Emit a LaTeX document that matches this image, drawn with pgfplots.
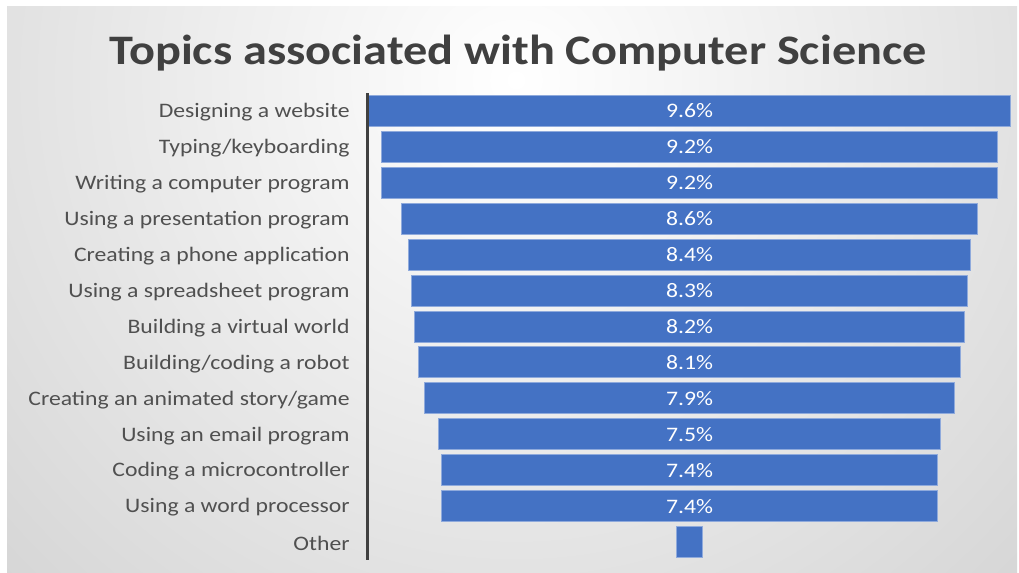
\documentclass[border=0pt]{standalone}
\usepackage{fontspec}
\setmainfont{Carlito}[FakeStretch=1.15]
\usepackage{pgfplots}
\pgfplotsset{compat=1.18}
\definecolor{barblue}{RGB}{68,114,196}
\definecolor{baredge}{RGB}{143,170,220}
\definecolor{txtgray}{RGB}{80,80,80}
\definecolor{titlegray}{RGB}{64,64,64}
\definecolor{axisgray}{RGB}{64,64,64}
\definecolor{bgedge}{RGB}{201,201,201}

\pgfplotsset{funnel/.style={
  at={(184pt,-46.5pt)}, anchor=north west,
  scale only axis, width=321.5pt, height=233.5pt,
  xmin=0, xmax=9.6, ymin=-0.5, ymax=12.5, y dir=reverse,
}}

\begin{document}
\begin{tikzpicture}
% frame and radial background
\fill[white] (0pt,0pt) rectangle (509.5pt,-286.5pt);
\begin{scope}
  \clip (3.5pt,-3pt) rectangle (508.5pt,-286pt);
  \fill[bgedge] (3.5pt,-3pt) rectangle (508.5pt,-286pt);
  \shade[inner color=white, outer color=bgedge] (258pt,-40pt) circle (470pt);
\end{scope}
\node[font=\fontsize{21}{25}\selectfont\bfseries, text=titlegray]
  at (259pt,-26.5pt) {Topics associated with Computer Science};

\begin{axis}[funnel,
  xbar stacked, bar width=15.5pt,
  hide x axis, axis y line*=left, axis on top,
  y axis line style={draw=axisgray, line width=1.5pt},
  ytick={0,...,12},
  yticklabels={Designing a website, Typing/keyboarding, Writing a computer program,
    Using a presentation program, Creating a phone application,
    Using a spreadsheet program, Building a virtual world, Building/coding a robot,
    Creating an animated story/game, Using an email program,
    Coding a microcontroller, Using a word processor, Other},
  major tick length=0pt, ytick style={draw=none},
  yticklabel style={font=\fontsize{10.3}{12}\selectfont, text=txtgray,
    inner sep=0pt, xshift=-9pt, yshift=-0.7pt},
]
% invisible offsets to centre the funnel: (9.6 - value)/2
\addplot[draw=none, fill=none] coordinates {
  (0,0) (0.2,1) (0.2,2) (0.5,3) (0.6,4) (0.65,5) (0.7,6)
  (0.75,7) (0.85,8) (1.05,9) (1.1,10) (1.1,11) (4.6,12)};
% shares
\addplot[fill=barblue, draw=baredge, line width=0.5pt] coordinates {
  (9.6,0) (9.2,1) (9.2,2) (8.6,3) (8.4,4) (8.3,5) (8.2,6)
  (8.1,7) (7.9,8) (7.5,9) (7.4,10) (7.4,11) (0.4,12)};
\end{axis}

% value labels in the middle of each bar
\begin{axis}[funnel, hide axis]
\addplot[only marks, mark=none,
  nodes near coords, point meta=explicit symbolic,
  every node near coord/.append style={anchor=center, text=white,
    font=\fontsize{10.3}{12}\selectfont}] coordinates {
  (4.8,0) [9.6\%] (4.8,1) [9.2\%] (4.8,2) [9.2\%] (4.8,3) [8.6\%]
  (4.8,4) [8.4\%] (4.8,5) [8.3\%] (4.8,6) [8.2\%] (4.8,7) [8.1\%]
  (4.8,8) [7.9\%] (4.8,9) [7.5\%] (4.8,10) [7.4\%] (4.8,11) [7.4\%]};
\end{axis}
\end{tikzpicture}
\end{document}
